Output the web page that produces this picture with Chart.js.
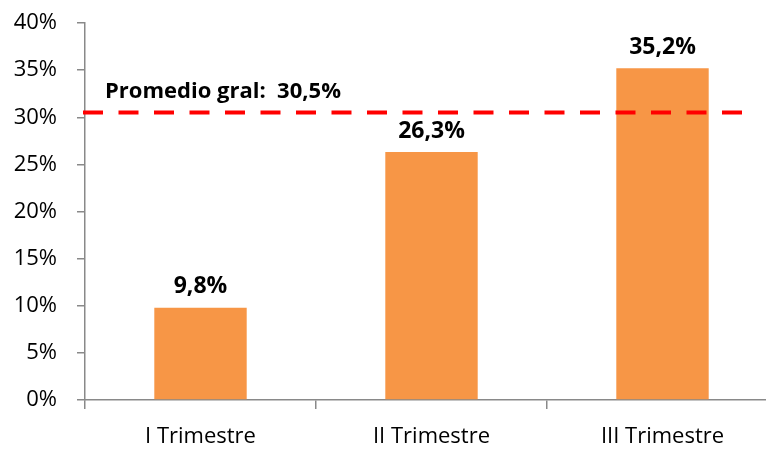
<!DOCTYPE html>
<html lang="es">
<head>
    <meta charset="UTF-8">
    <title>Promedio por trimestre</title>
    <style>
        html, body { margin: 0; padding: 0; background: #fff; overflow: hidden; }
        .chart-box { position: relative; width: 779px; height: 454px; }
    </style>
    <script src="https://cdn.jsdelivr.net/npm/chart.js@4.4.0/dist/chart.umd.min.js"></script>
</head>
<body>
<div class="chart-box">
    <canvas id="trimChart"></canvas>
</div>

<script>
    // data
    const categories = ['I Trimestre', 'II Trimestre', 'III Trimestre'];
    const values = [9.8, 26.3, 35.2];
    const average = 30.5;
    const averageLabel = 'Promedio gral:  30,5%';

    const FONT = '"Open Sans", "Liberation Sans", sans-serif';
    const fmt = v => v.toFixed(1).replace('.', ',') + '%';

    // bold value labels above each bar
    const valueLabels = {
        id: 'valueLabels',
        afterDatasetsDraw(chart) {
            const ctx = chart.ctx;
            const meta = chart.getDatasetMeta(0);
            ctx.save();
            ctx.font = 'bold 23px ' + FONT;
            ctx.fillStyle = '#000';
            ctx.textAlign = 'center';
            ctx.textBaseline = 'middle';
            meta.data.forEach((bar, i) => {
                ctx.fillText(fmt(values[i]), bar.x, bar.y - 21);
            });
            ctx.restore();
        }
    };

    // dashed average line with its label
    const averageLine = {
        id: 'averageLine',
        afterDatasetsDraw(chart) {
            const ctx = chart.ctx;
            const area = chart.chartArea;
            const y = chart.scales.y.getPixelForValue(average);
            ctx.save();
            ctx.strokeStyle = '#ff0000';
            ctx.lineWidth = 4;
            ctx.setLineDash([20, 15.5]);
            ctx.beginPath();
            ctx.moveTo(area.left - 2, y);
            ctx.lineTo(area.right - 35, y);
            ctx.stroke();
            ctx.setLineDash([]);
            ctx.font = 'bold 22px ' + FONT;
            ctx.fillStyle = '#000';
            ctx.textAlign = 'left';
            ctx.textBaseline = 'alphabetic';
            ctx.fillText(averageLabel, area.left + 20, y - 15);
            ctx.restore();
        }
    };

    new Chart(document.getElementById('trimChart'), {
        type: 'bar',
        data: {
            labels: categories,
            datasets: [{
                data: values,
                backgroundColor: '#f79646',
                barPercentage: 1,
                categoryPercentage: 0.4
            }]
        },
        options: {
            responsive: true,
            maintainAspectRatio: false,
            animation: false,
            layout: { padding: { top: 0, left: 0, right: 1, bottom: 0 } },
            plugins: {
                legend: { display: false },
                tooltip: { enabled: false }
            },
            scales: {
                x: {
                    offset: true,
                    grid: {
                        offset: true,
                        drawOnChartArea: false,
                        drawTicks: true,
                        tickLength: 9,
                        color: '#898989',
                        lineWidth: 1.5
                    },
                    border: { color: '#898989', width: 1.5 },
                    ticks: {
                        color: '#000',
                        padding: 15,
                        font: { family: FONT, size: 22 }
                    },
                    afterFit(scale) { scale.height = 54; }
                },
                y: {
                    min: 0,
                    max: 40,
                    grid: {
                        drawOnChartArea: false,
                        drawTicks: true,
                        tickLength: 8,
                        color: '#898989',
                        lineWidth: 1.5
                    },
                    border: { color: '#898989', width: 1.5 },
                    ticks: {
                        stepSize: 5,
                        color: '#000',
                        padding: 20,
                        font: { family: FONT, size: 22 },
                        callback: v => v + '%'
                    },
                    afterFit(scale) {
                        scale.width = 85;
                        scale.paddingTop = 23;
                    }
                }
            }
        },
        plugins: [valueLabels, averageLine]
    });
</script>
</body>
</html>
